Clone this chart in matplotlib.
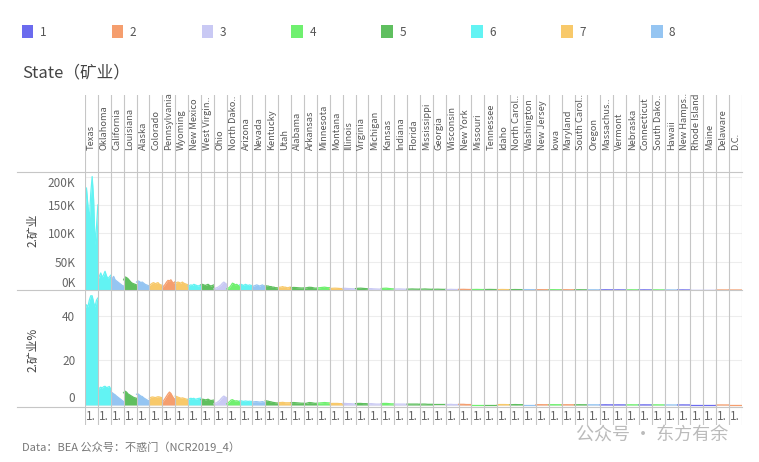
import numpy as np
import matplotlib
matplotlib.use('Agg')
import matplotlib.pyplot as plt
from matplotlib.patches import Patch
from matplotlib.lines import Line2D

plt.rcParams['font.family'] = ['Noto Sans CJK SC', 'DejaVu Sans']

# region colours 1..8
region_colors = ['#6b6bee', '#f59e6e', '#c9c9f4', '#6ff06f', '#5fbf5f', '#62f3f3', '#f8c96a', '#95c5f2']

states = ['Texas', 'Oklahoma', 'California', 'Louisiana', 'Alaska', 'Colorado', 'Pennsylvania',
          'Wyoming', 'New Mexico', 'West Virgin..', 'Ohio', 'North Dako..', 'Arizona', 'Nevada',
          'Kentucky', 'Utah', 'Alabama', 'Arkansas', 'Minnesota', 'Montana', 'Illinois', 'Virginia',
          'Michigan', 'Kansas', 'Indiana', 'Florida', 'Mississippi', 'Georgia', 'Wisconsin',
          'New York', 'Missouri', 'Tennessee', 'Idaho', 'North Carol..', 'Washington', 'New Jersey',
          'Iowa', 'Maryland', 'South Carol..', 'Oregon', 'Massachus..', 'Vermont', 'Nebraska',
          'Connecticut', 'South Dako..', 'Hawaii', 'New Hamps..', 'Rhode Island', 'Maine',
          'Delaware', 'D.C.']

region = [6, 6, 8, 5, 8, 7, 2, 7, 6, 5, 3, 4, 6, 8, 5, 7, 5, 5, 4, 7, 3, 5, 3, 4, 3, 5, 5, 5, 3,
          2, 4, 5, 7, 5, 8, 2, 4, 2, 5, 8, 1, 1, 4, 1, 4, 8, 1, 1, 1, 2, 2]

# mining value (thousands)
mining = [
    [130, 180, 150, 120, 170, 200, 160, 80, 110, 150],
    [18, 24, 30, 22, 27, 33, 25, 20, 23, 26],
    [22, 20, 24, 18, 16, 14, 12, 10, 8, 7],
    [18, 23, 22, 20, 17, 14, 12, 11, 10, 9],
    [14, 16, 15, 13, 14, 12, 10, 9, 8, 7],
    [8, 10, 12, 13, 11, 12, 13, 10, 9, 8],
    [5, 7, 10, 14, 17, 16, 18, 14, 12, 15],
    [12, 13, 14, 13, 12, 14, 12, 11, 10, 9],
    [7, 8, 9, 8, 10, 9, 8, 7, 8, 9],
    [9, 10, 9, 8, 9, 10, 8, 7, 8, 9],
    [2, 3, 4, 5, 7, 9, 12, 14, 12, 10],
    [2, 3, 5, 8, 12, 11, 9, 10, 8, 7],
    [9, 10, 9, 8, 10, 9, 8, 9, 8, 8],
    [6, 7, 8, 9, 8, 7, 8, 9, 7, 6],
    [8, 7, 7, 6, 6, 5, 5, 4, 4, 4],
    [4, 5, 5, 6, 5, 5, 4, 4, 5, 5],
    [4.0, 4.5, 4.2, 3.8, 3.5, 3.6],
    [3.0, 4.0, 4.8, 4.5, 3.5, 3.0],
    [3.5, 4.0, 4.5, 5.0, 4.2, 4.0],
    [2.5, 3.0, 3.2, 3.0, 2.6, 2.4],
    [2.8, 3.0, 2.6, 2.4, 2.2, 2.0],
    [2.5, 3.0, 3.2, 2.8, 2.4, 2.2],
    [2.2, 2.4, 2.0, 1.8, 1.6, 1.5],
    [2.6, 3.0, 3.2, 2.6, 2.2, 2.0],
    [1.6, 1.8, 1.9, 1.7, 1.5, 1.4],
    [1.5, 1.6, 1.8, 1.6, 1.5, 1.4],
    [1.4, 1.6, 1.8, 1.5, 1.3, 1.2],
    [1.2, 1.3, 1.4, 1.2, 1.1, 1.1],
    [0.8, 0.9, 1.2, 1.0, 0.9, 0.9],
    [1.0, 1.1, 1.2, 1.0, 0.9, 0.9],
    [0.8, 0.9, 1.0, 0.9, 0.8, 0.8],
    [0.8, 0.9, 1.0, 0.9, 0.8, 0.8],
    [0.6, 0.8, 0.9, 0.8, 0.7, 0.7],
    [0.6, 0.7, 0.8, 0.7, 0.7, 0.6],
    [0.6, 0.7, 0.7, 0.6, 0.6, 0.6],
    [0.5, 0.6, 0.6, 0.5, 0.5, 0.5],
    [0.5, 0.6, 0.6, 0.5, 0.5, 0.5],
    [0.4, 0.5, 0.5, 0.4, 0.4, 0.4],
    [0.4, 0.4, 0.5, 0.4, 0.4, 0.4],
    [0.3, 0.4, 0.4, 0.4, 0.3, 0.3],
    [0.3, 0.3, 0.4, 0.3, 0.3, 0.3],
    [0.2, 0.2, 0.3, 0.2, 0.2, 0.2],
    [0.3, 0.3, 0.4, 0.3, 0.3, 0.3],
    [0.2, 0.2, 0.3, 0.2, 0.2, 0.2],
    [0.2, 0.3, 0.3, 0.2, 0.2, 0.2],
    [0.1, 0.2, 0.2, 0.1, 0.1, 0.1],
    [0.1, 0.1, 0.2, 0.1, 0.1, 0.1],
    [0.1, 0.1, 0.1, 0.1, 0.1, 0.1],
    [0.1, 0.1, 0.1, 0.1, 0.1, 0.1],
    [0.05, 0.05, 0.1, 0.05, 0.05, 0.05],
    [0.02, 0.02, 0.03, 0.02, 0.02, 0.02],
]

# mining share (%)
mining_pct = [
    [43, 45, 44, 47, 49, 49, 46, 44, 47, 48],
    [7.0, 7.5, 8.0, 7.6, 8.2, 8.4, 7.8, 8.0, 8.3, 7.2],
    [6.0, 5.5, 5.0, 4.6, 4.0, 3.5, 3.0, 2.5, 2.0, 1.5],
    [5.5, 6.2, 5.8, 5.0, 4.6, 4.2, 3.8, 3.4, 3.2, 3.0],
    [4.8, 5.0, 4.5, 4.0, 3.8, 3.2, 2.8, 2.4, 2.0, 1.8],
    [3.0, 3.4, 3.6, 3.5, 3.3, 3.5, 3.7, 3.6, 3.4, 3.2],
    [1.2, 2.0, 3.0, 4.0, 5.0, 5.8, 5.2, 4.0, 3.0, 2.5],
    [4.0, 3.8, 3.5, 3.3, 3.0, 3.2, 3.0, 2.8, 2.6, 2.5],
    [2.5, 2.8, 3.0, 2.8, 3.0, 2.6, 2.7, 2.9, 3.0, 3.1],
    [2.4, 2.6, 2.5, 2.3, 2.4, 2.6, 2.2, 2.0, 2.1, 2.2],
    [0.5, 0.8, 1.0, 1.5, 2.0, 2.8, 3.5, 4.0, 3.6, 3.2],
    [0.5, 1.0, 1.5, 2.2, 2.4, 2.0, 1.8, 1.9, 1.7, 1.5],
    [1.8, 1.9, 1.7, 1.6, 1.8, 1.7, 1.6, 1.7, 1.6, 1.6],
    [1.3, 1.4, 1.5, 1.5, 1.4, 1.3, 1.4, 1.5, 1.3, 1.2],
    [2.0, 1.8, 1.7, 1.5, 1.4, 1.2, 1.1, 1.0, 0.9, 0.9],
    [1.0, 1.1, 1.1, 1.2, 1.1, 1.0, 1.0, 1.0, 1.0, 1.1],
    [1.0, 1.1, 1.0, 0.9, 0.8, 0.8],
    [0.6, 0.8, 1.1, 1.0, 0.8, 0.7],
    [0.8, 0.9, 1.0, 1.1, 1.0, 0.9],
    [0.6, 0.7, 0.7, 0.7, 0.6, 0.6],
    [0.7, 0.7, 0.6, 0.6, 0.5, 0.5],
    [0.6, 0.7, 0.7, 0.6, 0.6, 0.5],
    [0.5, 0.6, 0.5, 0.4, 0.4, 0.4],
    [0.6, 0.7, 0.7, 0.6, 0.5, 0.5],
    [0.4, 0.4, 0.4, 0.4, 0.4, 0.3],
    [0.4, 0.4, 0.4, 0.4, 0.4, 0.3],
    [0.3, 0.4, 0.4, 0.3, 0.3, 0.3],
    [0.3, 0.3, 0.3, 0.3, 0.3, 0.3],
    [0.2, 0.2, 0.3, 0.2, 0.2, 0.2],
    [0.3, 0.3, 0.3, 0.2, 0.2, 0.2],
    [0.2, 0.2, 0.2, 0.2, 0.2, 0.2],
    [0.2, 0.2, 0.2, 0.2, 0.2, 0.2],
    [0.15, 0.2, 0.2, 0.2, 0.15, 0.15],
    [0.15, 0.15, 0.2, 0.15, 0.15, 0.15],
    [0.15, 0.15, 0.15, 0.15, 0.15, 0.15],
    [0.12, 0.14, 0.14, 0.12, 0.12, 0.12],
    [0.12, 0.14, 0.14, 0.12, 0.12, 0.12],
    [0.1, 0.1, 0.12, 0.1, 0.1, 0.1],
    [0.1, 0.1, 0.12, 0.1, 0.1, 0.1],
    [0.08, 0.1, 0.1, 0.1, 0.08, 0.08],
    [0.07, 0.07, 0.1, 0.07, 0.07, 0.07],
    [0.05, 0.05, 0.07, 0.05, 0.05, 0.05],
    [0.07, 0.07, 0.1, 0.07, 0.07, 0.07],
    [0.05, 0.05, 0.07, 0.05, 0.05, 0.05],
    [0.05, 0.07, 0.07, 0.05, 0.05, 0.05],
    [0.03, 0.05, 0.05, 0.03, 0.03, 0.03],
    [0.03, 0.03, 0.05, 0.03, 0.03, 0.03],
    [0.02, 0.02, 0.02, 0.02, 0.02, 0.02],
    [0.02, 0.02, 0.02, 0.02, 0.02, 0.02],
    [0.01, 0.01, 0.02, 0.01, 0.01, 0.01],
    [0.01, 0.01, 0.01, 0.01, 0.01, 0.01],
]

top_ticks = [0, 50, 100, 150, 200]
bot_ticks = [0, 20, 40]

W, H = 759, 462
fig = plt.figure(figsize=(W / 100, H / 100), dpi=100)


def box(x0, y0, x1, y1):
    # pixel box (top-left origin) -> figure fraction
    return [x0 / W, 1 - y1 / H, (x1 - x0) / W, (y1 - y0) / H]


n = len(states)
line_c = '#c6c6c6'

ax_head = fig.add_axes(box(85, 95, 742, 172))
ax_top = fig.add_axes(box(85, 172, 742, 290))
ax_bot = fig.add_axes(box(85, 290, 742, 407))
ax_foot = fig.add_axes(box(85, 407, 742, 425))

for ax in [ax_head, ax_top, ax_bot, ax_foot]:
    ax.set_xlim(0, n)
    ax.set_xticks([])
    for s in ax.spines.values():
        s.set_visible(False)
    ax.set_facecolor('none')
    for k in range(n + 1):
        ax.axvline(k, color=line_c, lw=0.8, zorder=3)

for ax in [ax_head, ax_foot]:
    ax.set_ylim(0, 1)
    ax.set_yticks([])

for i, (vals, pct) in enumerate(zip(mining, mining_pct)):
    c = region_colors[region[i] - 1]
    x = np.linspace(i, i + 1, len(vals))
    ax_top.fill_between(x, 0, vals, color=c, lw=0, zorder=2)
    ax_top.plot(x, vals, color=c, lw=0.9, zorder=2)
    x2 = np.linspace(i, i + 1, len(pct))
    ax_bot.fill_between(x2, 0, pct, color=c, lw=0, zorder=2)
    ax_bot.plot(x2, pct, color=c, lw=0.9, zorder=2)
    ax_head.text(i + 0.5, 0.28, states[i], rotation=90, ha='center', va='bottom',
                 fontsize=6.7, color='#555555')
    ax_foot.text(i + 0.08, 0.45, '1.', ha='left', va='center', fontsize=8.5, color='#666666')

ax_top.set_ylim(0, 208)
ax_top.set_yticks(top_ticks)
ax_top.set_yticklabels([f'{t}K' for t in top_ticks])
ax_bot.set_ylim(-0.9, 51.6)
ax_bot.set_yticks(bot_ticks)
ax_bot.set_yticklabels([str(t) for t in bot_ticks])

for ax in [ax_top, ax_bot]:
    ax.tick_params(axis='y', length=0, pad=7, labelsize=8.5, labelcolor='#666666')
    ax.yaxis.grid(True, color='#ededed', lw=0.8)
    ax.set_axisbelow(True)
    labels = ax.get_yticklabels()
    labels[0].set_va('bottom')
ax_top.get_yticklabels()[-1].set_va('top')

# separator lines across the rows
for yy in [172, 290, 407]:
    fig.add_artist(Line2D([17 / W, 742 / W], [1 - yy / H, 1 - yy / H], color=line_c, lw=0.8))

fig.text(33 / W, 1 - 230 / H, '2.矿业', rotation=90, ha='center', va='center',
         fontsize=8.5, color='#444444')
fig.text(33 / W, 1 - 350 / H, '2.矿业%', rotation=90, ha='center', va='center',
         fontsize=8.5, color='#444444')

fig.text(22 / W, 1 - 73 / H, 'State（矿业）', ha='left', va='center', fontsize=12, color='#444444')

handles = [Patch(facecolor=c, edgecolor='none') for c in region_colors]
fig.legend(handles, [str(k) for k in range(1, 9)], loc='center left',
           bbox_to_anchor=(11 / W, 1 - 32 / H), ncol=8, frameon=False, fontsize=8.5,
           handlelength=1.0, handleheight=1.2, handletextpad=0.53, columnspacing=5.53,
           labelcolor='#555555')

fig.text(22 / W, 1 - 447 / H, 'Data：BEA 公众号：不惑门（NCR2019_4）', ha='left', va='center',
         fontsize=8, color='#777777')
fig.text(652 / W, 1 - 436 / H, '公众号 · 东方有余', ha='center', va='center',
         fontsize=13, color='#bbbbbb')

fig.savefig('out.png', dpi=100, facecolor='white')
